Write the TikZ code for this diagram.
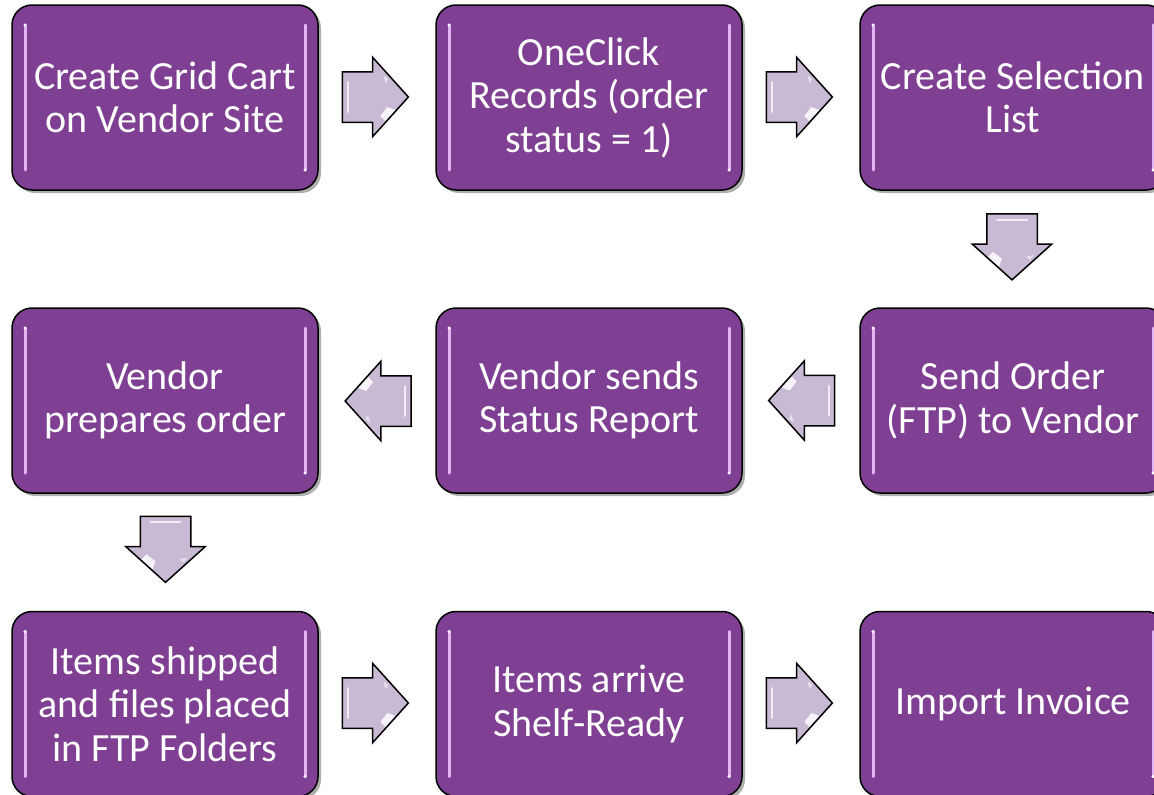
\documentclass[tikz,border=0pt]{standalone}
\usepackage{fontspec}
\setmainfont{Carlito}
\usetikzlibrary{shapes.arrows,shadows,calc}
\definecolor{boxpurple}{RGB}{127,63,147}
\definecolor{arrowfill}{RGB}{200,186,212}
\definecolor{hlpink}{RGB}{228,180,244}
\begin{document}
\begin{tikzpicture}[x=1pt,y=1pt,
  stepbox/.style={draw=black, line width=1.5pt, fill=boxpurple, rounded corners=20pt,
    minimum width=306pt, minimum height=185pt, text=white,
    font=\fontsize{40}{43.5}\selectfont, align=center, inner sep=0pt,
    drop shadow={shadow xshift=3pt, shadow yshift=-3pt, opacity=0.45, fill=black!70},
    path picture={
      \draw[hlpink, line width=3pt, line cap=round]
        ($(path picture bounding box.north west)+(13,-20)$) --
        ($(path picture bounding box.south west)+(13,20)$);
      \draw[hlpink, line width=3pt, line cap=round]
        ($(path picture bounding box.north east)+(-13,-20)$) --
        ($(path picture bounding box.south east)+(-13,20)$);
      \fill[white] ($(path picture bounding box.north west)+(13,-20)$) circle (1.6);
      \fill[white] ($(path picture bounding box.south east)+(-13,20)$) circle (1.6);
    }},
  blockarrow/.style={single arrow, draw=black, line width=1.5pt, fill=arrowfill,
    text height=49pt, text depth=0pt, text width=0pt,
    minimum height=66pt, single arrow head extend=14.5pt,
    single arrow tip angle=96, inner sep=0pt,
    path picture={
      \draw[white, opacity=0.75, line width=2pt, line cap=round]
        ($(path picture bounding box.center)+(-27,15)$) -- ($(path picture bounding box.center)+(-27,-15)$);
      \fill[white, opacity=0.85]
        ($(path picture bounding box.center)+(12,-10)$) -- ($(path picture bounding box.center)+(20,-13)$)
        -- ($(path picture bounding box.center)+(10,-24)$) -- ($(path picture bounding box.center)+(5,-19)$) -- cycle;
      \fill[white, opacity=0.55]
        ($(path picture bounding box.center)+(8,22)$) -- ($(path picture bounding box.center)+(13,18)$)
        -- ($(path picture bounding box.center)+(10,14)$) -- cycle;
    }},
]
\useasboundingbox (0,0) rectangle (1154,-795);
\clip (0,0) rectangle (1154,-795);

% boxes
\node[stepbox] (b1) at (165,-97.5) {Create Grid Cart\\on Vendor Site};
\node[stepbox] (b2) at (589,-97.5) {OneClick\\Records (order\\status = 1)};
\node[stepbox] (b3) at (1013,-97.5) {Create Selection\\List};
\node[stepbox] (b6) at (165,-400.5) {Vendor\\prepares order};
\node[stepbox] (b5) at (589,-400.5) {Vendor sends\\Status Report};
\node[stepbox] (b4) at (1013,-400.5) {Send Order\\(FTP) to Vendor};
\node[stepbox] (b7) at (165,-704) {Items shipped\\and files placed\\in FTP Folders};
\node[stepbox] (b8) at (589,-704) {Items arrive\\Shelf-Ready};
\node[stepbox] (b9) at (1013,-704) {Import Invoice};

% block arrows between boxes
\node[blockarrow] (a12) at (364,-97) {};
\node[blockarrow] (a23) at (788,-97) {};
\node[blockarrow, rotate=-90] (a34) at (1012,-235.5) {};
\node[blockarrow, rotate=180] (a45) at (813,-400.5) {};
\node[blockarrow, rotate=180] (a56) at (389.5,-401) {};
\node[blockarrow, rotate=-90] (a67) at (165.5,-538) {};
\node[blockarrow] (a78) at (364,-703) {};
\node[blockarrow] (a89) at (788,-703) {};
\end{tikzpicture}
\end{document}
